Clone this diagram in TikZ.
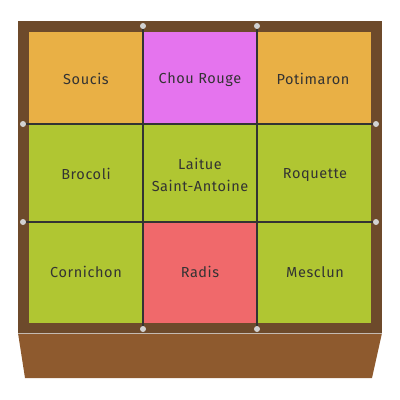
\documentclass[tikz,border=0pt]{standalone}
\usepackage{fontspec}
\setmainfont{Fira Sans}[LetterSpace=4]
\definecolor{frame}{HTML}{6D4A2B}
\definecolor{base}{HTML}{8E5A2E}
\definecolor{corange}{HTML}{E9B045}
\definecolor{cmag}{HTML}{E574EE}
\definecolor{cgreen}{HTML}{B0C632}
\definecolor{cred}{HTML}{F0696B}
\definecolor{ink}{HTML}{333333}
\definecolor{dotc}{HTML}{D2D2D2}
\tikzset{
  cell/.style={draw=none, inner sep=0pt},
  lbl/.style={text=ink, font=\fontsize{14.5}{22}\selectfont, align=center},
  gridline/.style={draw=ink, line width=1.8pt},
  pin/.style={circle, fill=dotc, inner sep=0pt, minimum size=6pt},
}
\begin{document}
\begin{tikzpicture}[x=1pt,y=-1pt]
\useasboundingbox (0,0) rectangle (400,400);
% base
\fill[base] (18,333) -- (382,333) -- (372,378) -- (25,378) -- cycle;
\draw[color=dotc!80!base, line width=0.8pt] (18,333) -- (382,333);
% frame
\fill[frame] (18,21) rectangle (382,333);
% cells
\fill[corange] (29,32) rectangle (143,124);
\fill[cmag] (143,32) rectangle (257,124);
\fill[corange] (257,32) rectangle (371,124);
\fill[cgreen] (29,124) rectangle (371,222);
\fill[cgreen] (29,222) rectangle (143,323);
\fill[cred] (143,222) rectangle (257,323);
\fill[cgreen] (257,222) rectangle (371,323);
% pins
\node[pin] (pt1) at (143,26) {};
\node[pin] (pt2) at (257,26) {};
\node[pin] (pb1) at (143,329) {};
\node[pin] (pb2) at (257,329) {};
\node[pin] (pl1) at (23,124) {};
\node[pin] (pl2) at (23,222) {};
\node[pin] (pr1) at (376,124) {};
\node[pin] (pr2) at (376,222) {};
% grid lines
\draw[gridline] (pt1) -- (pb1);
\draw[gridline] (pt2) -- (pb2);
\draw[gridline] (pl1) -- (pr1);
\draw[gridline] (pl2) -- (pr2);
% labels
\node[lbl] (a) at (86,79) {Soucis};
\node[lbl] (b) at (200,80) {Chou Rouge};
\node[lbl] (c) at (313,79) {Potimaron};
\node[lbl] (d) at (86,174) {Brocoli};
\node[lbl] (e) at (200,175) {Laitue\\Saint-Antoine};
\node[lbl] (f) at (315,175) {Roquette};
\node[lbl] (g) at (86,272) {Cornichon};
\node[lbl] (h) at (200,272) {Radis};
\node[lbl] (i) at (315,272) {Mesclun};
\end{tikzpicture}
\end{document}
